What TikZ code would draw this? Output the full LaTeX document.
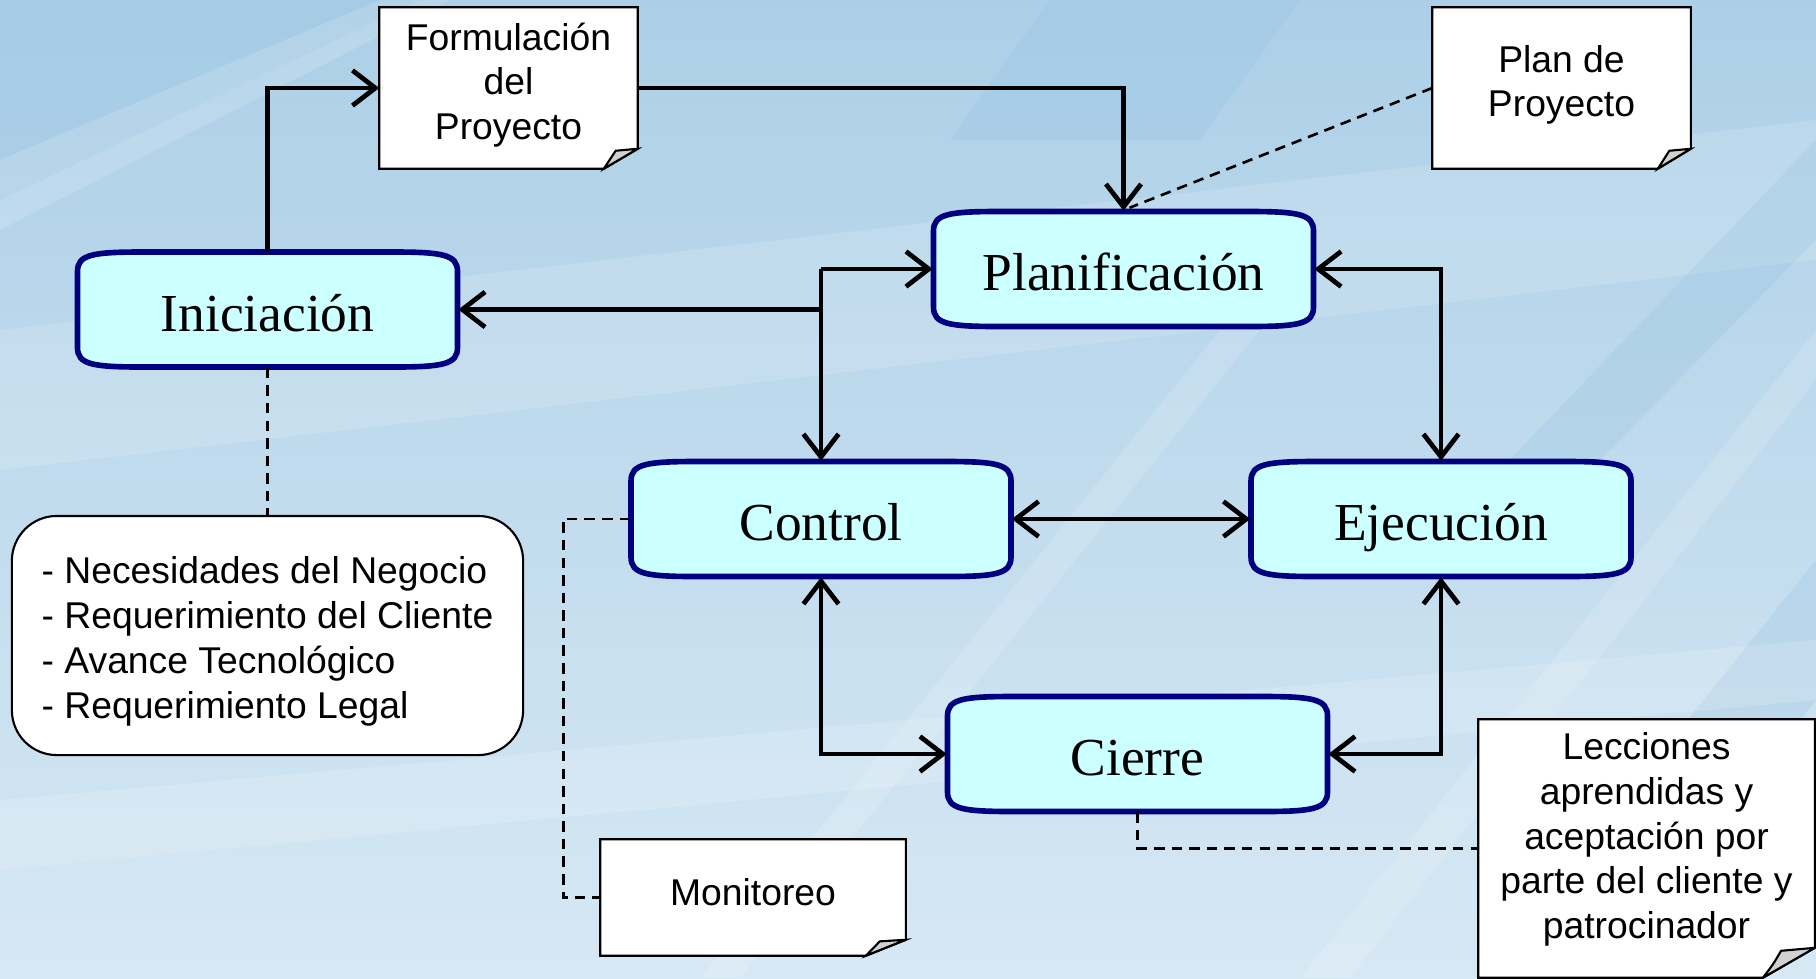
\documentclass[tikz,border=0pt]{standalone}
\usepackage{fontspec}
\setmainfont{Liberation Serif}
\newfontfamily\arialf{Liberation Sans}
\usetikzlibrary{arrows.meta,calc}
\definecolor{navyb}{RGB}{0,0,128}
\definecolor{procfill}{RGB}{204,255,255}
\definecolor{bgtop}{RGB}{172,207,231}
\definecolor{bgbot}{RGB}{214,232,244}
\definecolor{bgdark}{RGB}{150,195,225}
\tikzset{
  procline/.style={draw=navyb, line width=1.6pt, fill=procfill},
  procnode/.style={draw=none, minimum width=3.8cm, minimum height=1.15cm, inner sep=0pt, text height=14pt, text depth=1.6pt, font=\fontsize{15.2}{18}\selectfont},
  noteline/.style={draw=black, line width=0.6pt, fill=white},
  foldline/.style={draw=black, line width=0.6pt, fill=black!18},
  noteanchor/.style={draw=none, inner sep=0pt},
  notetext/.style={align=center, inner sep=0pt, font=\arialf\fontsize{10.6}{12.7}\selectfont},
  conn/.style={line width=1.35pt, line join=miter},
  arr/.style={conn, -{Straight Barb[length=6.5pt, width=10pt]}},
  arrb/.style={conn, {Straight Barb[length=6.5pt, width=10pt]}-{Straight Barb[length=6.5pt, width=10pt]}},
  dline/.style={line width=0.75pt, dash pattern=on 3pt off 2pt},
  band/.style={fill=white, opacity=0.15, draw=none},
  dband/.style={fill=bgdark, opacity=0.28, draw=none}
}
\newcommand{\procbox}[4]{%
  \begin{scope}[shift={(#2,#3)}]
    \path[procline] (-190,-38) .. controls (-190,-55) and (-175,-57.5) .. (-125,-57.5) -- (125,-57.5) .. controls (175,-57.5) and (190,-55) .. (190,-38) -- (190,38) .. controls (190,55) and (175,57.5) .. (125,57.5) -- (-125,57.5) .. controls (-175,57.5) and (-190,55) .. (-190,38) -- cycle;
  \end{scope}
  \node[procnode] (#1) at (#2,#3) {#4};}
\newcommand{\noteshape}[3]{%
  \path[noteline] (#1.north west) -- (#1.north east) -- ($(#1.south east)+(0,-#3)$) -- ($(#1.south east)+(-#2,0)$) -- (#1.south west) -- cycle;
  \path[foldline] ($(#1.south east)+(-#2,0)$) -- ($(#1.south east)+(0,-#3)$) -- ($(#1.south east)+(-0.65*#2,-0.9*#3)$) .. controls ($(#1.south east)+(-0.8*#2,-0.45*#3)$) .. ($(#1.south east)+(-#2,0)$) -- cycle;}
\begin{document}
\begin{tikzpicture}[x=0.01cm, y=-0.01cm]
\useasboundingbox (0,0) rectangle (1816,978);
% background
\shade[top color=bgtop, bottom color=bgbot] (0,0) rectangle (1816,978);
\fill[dband] (0,0) -- (420,0) -- (0,200) -- cycle;
\fill[band] (0,160) -- (380,0) -- (450,0) -- (0,230) -- cycle;
\fill[band] (0,330) -- (1816,120) -- (1816,260) -- (0,470) -- cycle;
\fill[dband] (1480,978) -- (1816,560) -- (1816,700) -- (1600,978) -- cycle;
\fill[band] (1300,978) -- (1816,330) -- (1816,380) -- (1350,978) -- cycle;
\fill[band] (700,978) -- (1220,330) -- (1260,330) -- (740,978) -- cycle;
\fill[dband] (1500,470) -- (1816,140) -- (1816,240) -- (1590,470) -- cycle;
\fill[band] (0,800) -- (1816,640) -- (1816,700) -- (0,870) -- cycle;
\fill[dband] (1050,0) -- (1300,0) -- (1200,140) -- (950,140) -- cycle;

% process boxes
\procbox{ini}{267.5}{309.5}{Iniciación}
\procbox{plan}{1123.5}{269}{Planificación}
\procbox{ctrl}{821}{519}{Control}
\procbox{ejec}{1441}{519}{Ejecución}
\procbox{cierre}{1137.5}{754}{Cierre}

% notes
\node[noteanchor, minimum width=2.57cm, minimum height=1.6cm] (form) at (508.5,88) {};
\noteshape{form}{34}{20}
\node[notetext] (formt) at ([yshift=0.03cm]form.center) {Formulación\\del\\Proyecto};

\node[noteanchor, minimum width=2.57cm, minimum height=1.6cm] (planp) at (1561.5,88) {};
\noteshape{planp}{33}{20}
\node[notetext] (planpt) at ([yshift=0.03cm]planp.center) {Plan de\\Proyecto};

\node[noteanchor, minimum width=3.04cm, minimum height=1.15cm] (moni) at (753,897.5) {};
\noteshape{moni}{40}{16}
\node[notetext] (monit) at ([yshift=0.05cm]moni.center) {Monitoreo};

\node[noteanchor, minimum width=3.35cm, minimum height=2.57cm] (lecc) at (1646.5,848.5) {};
\noteshape{lecc}{52}{30}
\node[notetext] (lecct) at ([yshift=0.09cm]lecc.center) {Lecciones\\aprendidas y\\aceptación por\\parte del cliente y\\patrocinador};

\node[draw=black, line width=0.6pt, fill=white, rounded corners=0.45cm, minimum width=5.11cm, minimum height=2.39cm, align=left, inner sep=0pt, font=\arialf\fontsize{10.6}{12.8}\selectfont] (needs) at (267.5,635.5) {};
\node[align=left, inner sep=0pt, font=\arialf\fontsize{10.6}{12.8}\selectfont] (needst) at ([yshift=-0.06cm]needs.center) {- Necesidades del Negocio\\- Requerimiento del Cliente\\- Avance Tecnológico\\- Requerimiento Legal};

% connectors
\draw[arr] (ini.north) |- (form.west);
\draw[arr] (form.east) -| (plan.north);
\draw[dline] (planp.west) -- ([xshift=0.06cm, yshift=0.03cm]plan.north);
\draw[arr] (ctrl.north |- ini.east) -- (ini.east);
\draw[arr] (ctrl.north |- plan.west) -- (plan.west);
\draw[arr] (ctrl.north |- plan.west) -- (ctrl.north);
\draw[arrb] (plan.east) -| (ejec.north);
\draw[arrb] (ctrl.east) -- (ejec.west);
\draw[arrb] (ctrl.south) |- (cierre.west);
\draw[arrb] (ejec.south) |- (cierre.east);
\draw[dline] (ini.south) -- (needs.north);
\draw[dline] (ctrl.west) -- ++(-67,0) |- (moni.west);
\draw[dline] (cierre.south) |- (lecc.west);
\end{tikzpicture}
\end{document}
